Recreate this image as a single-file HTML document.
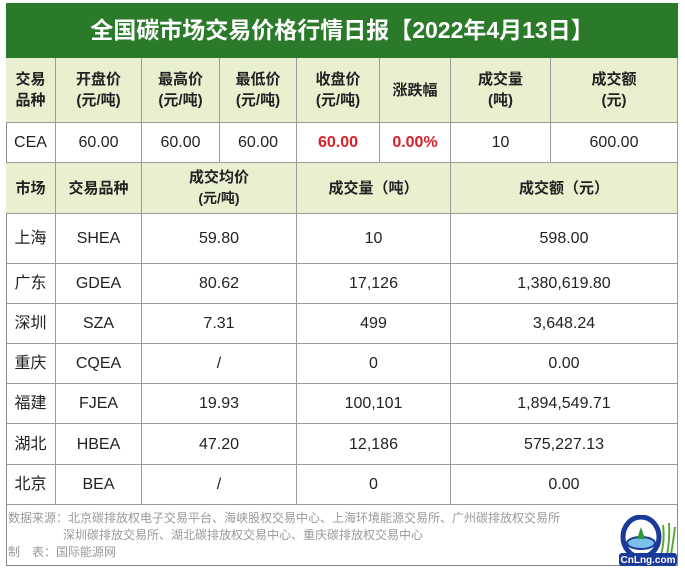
<!DOCTYPE html>
<html><head><meta charset="utf-8">
<style>
body{margin:0;width:685px;height:571px;background:#fff;font-family:"Liberation Sans","Noto Sans CJK SC",sans-serif;position:relative;overflow:hidden}
.a{position:absolute;box-sizing:border-box;display:flex;align-items:center;justify-content:center;text-align:center;color:#222;font-size:16px;line-height:21px}
.h{background:#e8f0cf;font-weight:bold;font-size:15px}
.b{border-right:1px solid #9a9a9a;border-bottom:1px solid #9a9a9a}
.red{color:#d9202a;font-weight:bold}
</style></head><body>
<div style="position:absolute;left:6px;top:3px;width:672px;height:563px;border:1px solid #8a8a8a;box-sizing:border-box"></div>
<div class="a" style="left:6px;top:3px;width:672px;height:55px;background:#2a7a2a;color:#fff;font-size:23px;font-weight:bold">全国碳市场交易价格行情日报【2022年4月13日】</div>
<div id="t"></div>
<div style="position:absolute;left:8px;top:510px;font-size:12px;color:#999;line-height:17px;font-family:'Liberation Sans','Noto Sans CJK SC',sans-serif">数据来源：北京碳排放权电子交易平台、海峡股权交易中心、上海环境能源交易所、广州碳排放权交易所<br><span style="padding-left:55px">深圳碳排放交易所、湖北碳排放权交易中心、重庆碳排放权交易中心</span><br>制　表：国际能源网</div>
<svg style="position:absolute;left:615px;top:515px" width="66" height="52">
<ellipse cx="26" cy="22" rx="18" ry="20" fill="none" stroke="#1a3a9a" stroke-width="5"/>
<ellipse cx="26" cy="28" rx="14" ry="6" fill="#7ac0e8" stroke="#1a3a9a" stroke-width="2"/>
<path d="M26 12 L22 24 L30 24Z" fill="#2a9a3a"/>
<path d="M48 10 Q50 25 46 40 M54 8 Q55 25 52 40 M60 12 Q58 28 56 40" stroke="#5aa83a" stroke-width="2" fill="none"/>
<rect x="4" y="38" width="58" height="13" fill="#1a3a9a" rx="3"/>
<text x="33" y="48" fill="#fff" font-size="10" font-weight="bold" text-anchor="middle" font-family="Liberation Sans">CnLng.com</text>
</svg>
<script>
const topHead=['交易<br>品种','开盘价<br>(元/吨)','最高价<br>(元/吨)','最低价<br>(元/吨)','收盘价<br>(元/吨)','涨跌幅','成交量<br>(吨)','成交额<br>(元)'];
const ceaRow=['CEA','60.00','60.00','60.00','60.00','0.00%','10','600.00'];
const markets=['上海','广东','深圳','重庆','福建','湖北','北京'];
const codes=['SHEA','GDEA','SZA','CQEA','FJEA','HBEA','BEA'];
const avgPrice=['59.80','80.62','7.31','/','19.93','47.20','/'];
const volume=['10','17,126','499','0','100,101','12,186','0'];
const turnover=['598.00','1,380,619.80','3,648.24','0.00','1,894,549.71','575,227.13','0.00'];
const t=document.getElementById('t');
function cell(x,y,w,h,html,cls,name){const d=document.createElement('div');d.className='a b '+(cls||'');
d.style.cssText=`left:${x}px;top:${y}px;width:${w}px;height:${h}px`;d.innerHTML='<div>'+html+'</div>';


t.appendChild(d);}
const cx=[6,56,142,220,297,380,451,551,678];
topHead.forEach((s,i)=>cell(cx[i],58,cx[i+1]-cx[i],65,s,'h','header-'+i));
ceaRow.forEach((s,i)=>cell(cx[i],123,cx[i+1]-cx[i],40,s,(i==4||i==5)?'red':'','cea-'+i));
const lx=[6,56,142,297,451,678];
['市场','交易品种','成交均价<br><span style="font-size:14px">(元/吨)</span>','成交量（吨）','成交额（元）'].forEach((s,i)=>cell(lx[i],163,lx[i+1]-lx[i],51,s,'h','market-header-'+i));
const rowTop=[214,264,304,344,384,424,465,505];
markets.forEach((m,r)=>{const y=rowTop[r],h=rowTop[r+1]-y;
[m,codes[r],avgPrice[r],volume[r],turnover[r]].forEach((s,i)=>cell(lx[i],y,lx[i+1]-lx[i],h,s,'','row-'+codes[r].toLowerCase()+'-'+i));});
</script>
</body></html>
